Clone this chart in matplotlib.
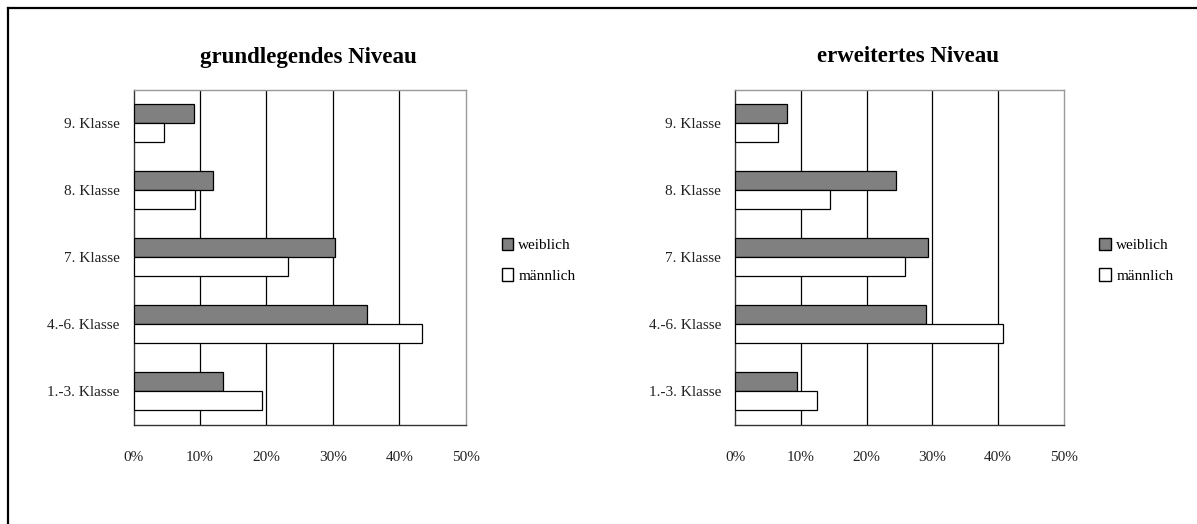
import matplotlib
matplotlib.use("Agg")
import matplotlib.pyplot as plt
from matplotlib.lines import Line2D
from matplotlib.patches import Patch
from matplotlib.ticker import PercentFormatter
import numpy as np

plt.rcParams["font.family"] = ["Liberation Serif", "DejaVu Serif"]

KLASSEN = ["1.-3. Klasse", "4.-6. Klasse", "7. Klasse", "8. Klasse", "9. Klasse"]
GRUND_W = [13.4, 35.1, 30.4, 11.9, 9.1]
GRUND_M = [19.3, 43.4, 23.3, 9.2, 4.6]
ERW_W = [9.4, 29.0, 29.3, 24.4, 7.9]
ERW_M = [12.5, 40.7, 25.8, 14.5, 6.5]
X_TICKS = [0, 10, 20, 30, 40, 50]

W, H = 1197, 524
BAR_H = 0.285


def panel(fig, rect, title, title_x, w_vals, m_vals):
    ax = fig.add_axes(rect)
    y = np.arange(len(KLASSEN))
    ax.barh(y + BAR_H / 2, w_vals, height=BAR_H, color="#808080",
            edgecolor="black", linewidth=0.9, zorder=3, label="weiblich")
    ax.barh(y - BAR_H / 2, m_vals, height=BAR_H, color="white",
            edgecolor="black", linewidth=0.9, zorder=3, label="männlich")
    ax.set_ylim(-0.5, len(KLASSEN) - 0.5)
    ax.set_xlim(0, 50)
    ax.set_yticks(y)
    ax.set_yticklabels(KLASSEN)
    ax.set_xticks(X_TICKS)
    ax.xaxis.set_major_formatter(PercentFormatter(xmax=100, decimals=0))
    ax.tick_params(axis="both", length=0, labelsize=11, colors="#222222")
    ax.tick_params(axis="x", pad=19)
    ax.tick_params(axis="y", pad=10)
    ax.set_axisbelow(True)
    ax.grid(axis="x", color="black", linewidth=0.9)
    ax.grid(axis="y", visible=False)
    gl = ax.xaxis.get_gridlines()
    gl[0].set_visible(False)
    gl[-1].set_visible(False)
    for side in ("left", "bottom"):
        ax.spines[side].set_color("#333333")
        ax.spines[side].set_linewidth(1.0)
    for side in ("top", "right"):
        ax.spines[side].set_color("#999999")
        ax.spines[side].set_linewidth(1.0)

    handles = [Patch(facecolor="#808080", edgecolor="black", label="weiblich"),
               Patch(facecolor="white", edgecolor="black", label="männlich")]
    ax.legend(handles=handles, loc="center left", bbox_to_anchor=(1.085, 0.49),
              frameon=False, handlelength=0.75, handleheight=0.9,
              handletextpad=0.35, labelspacing=1.05, borderpad=0,
              fontsize=11)

    fig.text(title_x / W, 1 - 57 / H, title, ha="center", va="center",
             fontsize=16.5, fontweight="bold")
    return ax


fig = plt.figure(figsize=(W / 100, H / 100), dpi=100)

panel(fig, [133.5 / W, 1 - 424.6 / H, 332.2 / W, 335 / H],
      "grundlegendes Niveau", 308, GRUND_W, GRUND_M)
panel(fig, [735.2 / W, 1 - 424.6 / H, 328.6 / W, 335 / H],
      "erweitertes Niveau", 908, ERW_W, ERW_M)

# outer frame: left and top edges only
x0, y0 = 7.5 / W, 1 - 7.5 / H
fig.add_artist(Line2D([x0, x0], [0, y0], color="black", linewidth=1.6,
                      transform=fig.transFigure, solid_capstyle="projecting"))
fig.add_artist(Line2D([x0, 1], [y0, y0], color="black", linewidth=1.6,
                      transform=fig.transFigure, solid_capstyle="projecting"))

fig.savefig("out.png", dpi=100)
